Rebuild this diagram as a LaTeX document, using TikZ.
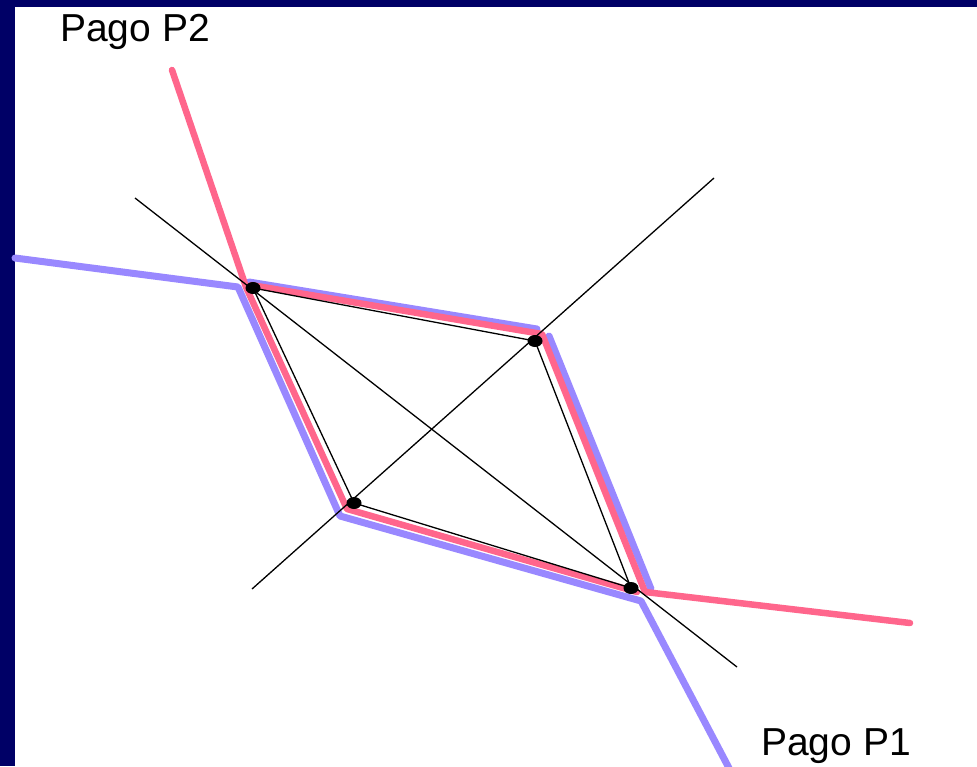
\documentclass[tikz,border=0pt]{standalone}
\usepackage{fontspec}
\setmainfont{Liberation Sans}
\usetikzlibrary{shapes.geometric}
\definecolor{navy}{RGB}{0,0,102}
\definecolor{pagopink}{RGB}{255,102,140}
\definecolor{pagoblue}{RGB}{153,136,255}
\begin{document}
\begin{tikzpicture}[x=1pt,y=-1pt,
  thinline/.style={black,line width=1.3pt},
  pinkline/.style={pagopink,line width=6.5pt,line cap=round,line join=round},
  blueline/.style={pagoblue,line width=7pt,line cap=round,line join=round},
  dot/.style={fill=black,ellipse,inner sep=0pt,minimum width=15pt,minimum height=12pt},
  lbl/.style={font=\fontsize{39}{44}\selectfont,inner sep=0pt,anchor=base west}]
\useasboundingbox (0,0) rectangle (977,766);
\fill[navy] (0,0) rectangle (977,766);
\fill[white] (15,7) rectangle (977,766);
% coordinates
\coordinate (A) at (253,288);
\coordinate (B) at (535,341);
\coordinate (C) at (354,503);
\coordinate (D) at (631,588);
\coordinate (d1s) at (135,198);
\coordinate (d1e) at (737,667);
\coordinate (d2s) at (252,589);
\coordinate (d2e) at (714,178);
% blue (Pago P1)
\coordinate (b1) at (15,258);
\coordinate (b2) at (238,287);
\coordinate (b3) at (340,516);
\coordinate (b4) at (641,601);
\coordinate (b5) at (730,770);
\coordinate (b6) at (249,282);
\coordinate (b7) at (537,329);
\coordinate (b8) at (549,336);
\coordinate (b9) at (651,589);
\draw[blueline] (b1) -- (b2) -- (b3) -- (b4) -- (b5);
\draw[blueline] (b6) -- (b7);
\draw[blueline] (b8) -- (b9);
% pink (Pago P2)
\coordinate (p1) at (172,70);
\coordinate (p2) at (246,287);
\coordinate (p3) at (347,509);
\coordinate (p4) at (637,592);
\coordinate (p5) at (251,285);
\coordinate (p6) at (542,334);
\coordinate (p7) at (645,592);
\coordinate (p8) at (910,623);
\draw[pinkline] (p1) -- (p2) -- (p3) -- (p4);
\draw[pinkline] (p5) -- (p6) -- (p7) -- (p8);
% black lines
\draw[thinline] (d1s) -- (d1e);
\draw[thinline] (d2s) -- (d2e);
\draw[thinline] (A) -- (B) -- (D) -- (C) -- cycle;
\node[dot] (nA) at (A) {};
\node[dot] (nB) at (B) {};
\node[dot] (nC) at (C) {};
\node[dot] (nD) at (D) {};
% labels
\node[lbl] (l2) at (60,41) {Pago P2};
\node[lbl] (l1) at (761,755) {Pago P1};
\end{tikzpicture}
\end{document}
